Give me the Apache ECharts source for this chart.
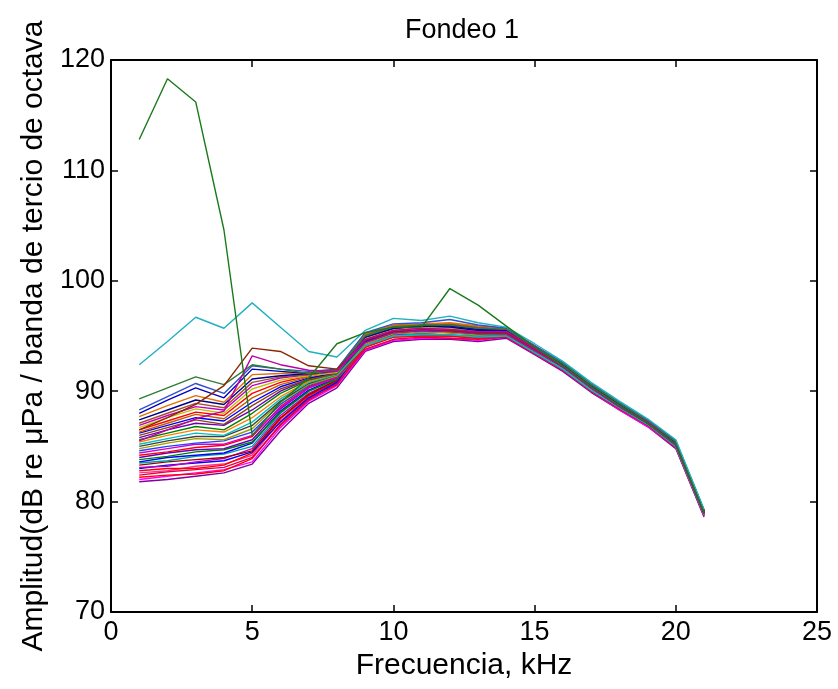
<!DOCTYPE html>
<html>
<head>
<meta charset="utf-8">
<script src="https://cdn.jsdelivr.net/npm/echarts@6/dist/echarts.min.js"></script>
<style>
  html, body { margin: 0; padding: 0; background: #fff; }
  #chart { width: 838px; height: 689px; }
</style>
</head>
<body>
<div id="chart"></div>
<script>
// frequency bands (kHz)
var freq = [1,2,3,4,5,6,7,8,9,10,11,12,13,14,15,16,17,18,19,20,21];

// spectra (dB), bottom of the bundle first
var r01 = [81.8,82.0,82.3,82.6,83.4,86.4,88.9,90.3,93.6,94.5,94.7,94.7,94.5,94.8,93.3,91.8,89.9,88.3,86.8,84.8,78.6];
var r02 = [82.0,82.3,82.6,82.9,83.6,86.7,89.1,90.5,93.7,94.6,94.8,94.8,94.6,94.9,93.4,91.9,90.0,88.3,86.8,84.9,78.7];
var r03 = [82.2,82.4,82.5,82.8,83.9,87.0,89.3,90.6,94.0,94.9,95.0,95.0,94.8,95.0,93.5,92.0,90.1,88.5,87.0,85.0,78.8];
var r04 = [82.4,82.7,82.9,83.1,84.0,86.9,89.2,90.7,93.8,94.7,94.9,94.8,94.7,94.9,93.4,91.9,90.0,88.4,86.9,84.9,78.7];
var r05 = [82.6,82.8,83.2,83.4,84.2,87.3,89.5,90.8,94.1,95.0,95.1,95.1,94.9,95.0,93.5,92.0,90.1,88.5,87.0,85.0,78.8];
var r06 = [82.8,83.0,83.0,83.3,84.4,87.5,89.6,90.9,94.0,95.0,95.1,95.0,94.9,95.1,93.6,92.1,90.2,88.5,87.0,85.1,78.9];
var r07 = [83.0,83.3,83.5,83.7,84.5,87.2,89.4,90.8,94.4,95.3,95.5,95.4,95.2,95.2,93.7,92.2,90.3,88.6,87.1,85.1,78.9];
var r08 = [83.1,83.2,83.6,83.9,84.8,87.8,89.8,91.0,94.1,95.1,95.2,95.1,94.9,95.0,93.5,92.0,90.1,88.5,87.0,85.0,78.8];
var r09 = [83.3,83.6,83.8,84.0,84.6,87.6,89.7,91.0,94.3,95.2,95.4,95.3,95.1,95.2,93.7,92.1,90.2,88.6,87.1,85.1,78.9];
var r10 = [83.5,83.7,84.1,84.3,85.0,88.0,90.0,91.1,94.1,95.0,95.2,95.1,95.0,95.1,93.6,92.0,90.2,88.5,87.0,85.0,78.8];
var r11 = [83.6,84.0,84.2,84.4,85.3,88.2,90.1,91.2,94.5,95.4,95.5,95.4,95.2,95.3,93.8,92.2,90.3,88.7,87.1,85.2,79.0];
var r12 = [83.8,84.1,84.5,84.7,85.4,88.1,90.0,91.1,94.8,95.6,95.8,95.7,95.5,95.4,93.9,92.4,90.5,88.8,87.2,85.3,79.1];
var r13 = [84.0,84.4,84.7,84.8,85.6,88.4,90.3,91.3,94.5,95.3,95.5,95.4,95.2,95.2,93.7,92.2,90.3,88.6,87.1,85.1,78.9];
var r14 = [84.2,84.5,84.9,85.1,85.9,88.6,90.4,91.3,94.0,94.9,95.0,95.0,94.8,95.0,93.5,92.0,90.1,88.5,87.0,85.0,78.8];
var r15 = [84.4,84.8,85.2,85.2,86.0,88.5,90.3,91.2,94.7,95.6,95.8,95.6,95.4,95.4,93.9,92.3,90.4,88.8,87.2,85.3,79.1];
var r16 = [84.6,85.0,85.3,85.5,86.3,88.8,90.5,91.4,94.4,95.3,95.5,95.4,95.2,95.3,93.8,92.2,90.3,88.7,87.1,85.2,79.0];
var r17 = [84.8,85.3,85.7,85.6,86.6,89.0,90.6,91.4,94.3,95.2,95.4,95.3,95.1,95.2,93.7,92.1,90.2,88.6,87.1,85.1,78.9];
var r18 = [85.0,85.5,85.9,85.9,86.9,89.1,90.7,91.5,94.8,95.6,95.8,95.7,95.5,95.4,93.9,92.4,90.5,88.8,87.2,85.3,79.1];
var r19 = [85.2,85.7,86.2,86.0,87.2,89.3,90.8,91.5,94.1,95.0,95.1,95.1,94.9,95.0,93.5,92.0,90.1,88.5,87.0,85.0,78.8];
var r20 = [85.4,86.0,86.5,86.3,87.6,89.5,90.9,91.6,94.7,95.6,95.7,95.7,95.5,95.4,93.9,92.4,90.5,88.8,87.3,85.3,79.1];
var r21 = [85.6,86.2,86.8,86.5,88.0,89.8,91.0,91.6,94.4,95.3,95.5,95.4,95.2,95.2,93.7,92.2,90.3,88.6,87.1,85.1,78.9];
var r22 = [85.8,86.5,87.1,86.9,88.3,90.0,91.1,91.7,95.1,95.9,96.0,96.1,95.8,95.6,94.1,92.5,90.6,88.9,87.3,85.4,79.2];
var r23 = [86.0,86.7,87.4,87.0,88.7,90.2,91.1,91.6,94.8,95.6,95.8,95.7,95.5,95.4,93.9,92.4,90.5,88.8,87.2,85.3,79.1];
var r24 = [86.2,86.9,87.6,87.3,89.0,90.4,91.2,91.7,94.5,95.4,95.5,95.5,95.3,95.3,93.8,92.2,90.4,88.7,87.1,85.2,79.0];
var r25 = [86.3,87.1,87.9,87.5,89.4,90.6,91.3,91.8,94.9,95.7,95.9,95.8,95.6,95.5,94.0,92.4,90.5,88.8,87.2,85.3,79.1];
var r26 = [86.5,87.3,88.1,87.8,89.8,90.8,91.4,91.8,95.0,95.8,96.0,96.0,95.7,95.6,94.1,92.5,90.6,88.9,87.3,85.4,79.2];
var r27 = [86.7,87.6,88.4,88.0,90.2,91.0,91.4,91.7,94.8,95.6,95.8,95.7,95.5,95.4,93.9,92.4,90.5,88.8,87.2,85.3,79.1];
var r28 = [86.9,87.8,88.6,88.3,90.5,91.2,91.5,91.8,94.4,95.3,95.5,95.4,95.2,95.2,93.7,92.2,90.3,88.6,87.1,85.1,78.9];
var r29 = [87.1,88.0,88.9,88.5,90.8,91.3,91.5,91.9,95.1,95.9,96.0,96.1,95.8,95.6,94.1,92.5,90.6,88.9,87.3,85.4,79.2];
var r30 = [87.4,88.3,89.2,88.8,91.1,91.4,91.6,91.9,94.9,95.7,95.9,95.8,95.5,95.5,94.0,92.4,90.5,88.8,87.2,85.3,79.1];
var r31 = [87.7,88.7,89.6,89.0,91.5,91.6,91.7,92.0,95.2,96.0,96.1,96.2,95.9,95.7,94.1,92.6,90.6,88.9,87.4,85.4,79.2];
var r32 = [88.0,89.2,90.3,89.4,92.0,91.8,91.6,91.9,94.9,95.7,95.9,95.9,95.6,95.5,94.0,92.4,90.5,88.8,87.2,85.3,79.1];
var r33 = [88.3,89.5,90.7,89.8,92.3,92.0,91.8,92.0,95.3,96.1,96.2,96.5,96.0,95.7,94.1,92.6,90.7,89.0,87.4,85.5,79.2];
var r34 = [89.3,90.3,91.3,90.6,92.4,92.0,91.6,91.9,95.0,95.8,96.0,96.0,95.7,95.6,94.0,92.5,90.6,88.9,87.3,85.4,79.2];
var r35 = [86.5,87.6,88.8,90.5,93.9,93.6,92.3,92.0,94.6,95.4,95.6,95.5,95.3,95.3,93.8,92.3,90.4,88.7,87.1,85.2,79.0];
var r36 = [85.5,86.5,87.5,88.2,93.2,92.4,91.9,91.8,94.7,95.5,95.7,95.6,95.4,95.4,93.9,92.3,90.4,88.7,87.2,85.2,79.0];
// the two odd ones
var cyanLine  = [92.4,94.5,96.7,95.7,98.0,95.8,93.6,93.1,95.5,96.6,96.4,96.8,96.2,95.8,94.3,92.7,90.8,89.1,87.5,85.6,79.3];
var greenLine = [112.8,118.3,116.2,104.6,86.0,89.0,91.2,94.3,95.3,95.8,95.8,99.3,97.8,95.9,94.0,92.3,90.4,88.7,87.1,85.2,79.0];

var lines = [r01,r02,r03,r04,r05,r06,r07,r08,r09,r10,r11,r12,r13,r14,r15,r16,r17,r18,
             r19,r20,r21,r22,r23,r24,r25,r26,r27,r28,r29,r30,r31,r32,r33,r34,r35,r36,cyanLine,greenLine];
var colors = ['#8000a0','#ff00ff','#ff0000','#e0004a','#ff3090','#ff0000','#0000ff','#c000c0','#a00000',
              '#00a0a0','#0000ff','#008000','#6000c0','#ff0000','#d000d0','#2040ff','#a0a000','#404040',
              '#00c0c0','#ff8000','#008000','#7000b0','#8b4513','#0000ff','#c06000','#ff0000','#c0c000',
              '#c000c0','#a0522d','#000090','#e07000','#0000c0','#3050d0','#2e7d32','#8b2500','#c000a0',
              '#20b0c0','#1a7a1a'];

var FONT = 'Liberation Sans';
var chart = echarts.init(document.getElementById('chart'));

var series = [];
for (var i = 0; i < lines.length; i++) {
  series.push({
    type: 'line',
    data: freq.map(function (f, k) { return [f, lines[i][k]]; }),
    showSymbol: false,
    symbol: 'none',
    lineStyle: { width: 1.4, color: colors[i] },
    z: 2 + i
  });
}

function boxAxis(pos, extra) {
  var a = {
    type: 'value',
    position: pos,
    axisLine: { show: true, onZero: false, lineStyle: { color: '#000', width: 2 } },
    axisTick: { show: true, inside: true, length: 7, lineStyle: { color: '#000', width: 1.5 } },
    axisLabel: { show: false },
    splitLine: { show: false }
  };
  return Object.assign(a, extra);
}

chart.setOption({
  animation: false,
  backgroundColor: '#fff',
  grid: { left: 111, right: 21, top: 60, bottom: 77, containLabel: false },
  graphic: [{
    type: 'text', x: 462, y: 31,
    style: { text: 'Fondeo 1', font: '27px "' + FONT + '"', fill: '#000', textAlign: 'center', textVerticalAlign: 'middle' }
  }],
  xAxis: [
    boxAxis('bottom', {
      min: 0, max: 25, interval: 5,
      axisLabel: { show: true, color: '#000', fontSize: 27, fontFamily: FONT, margin: 7 },
      name: 'Frecuencia, kHz', nameLocation: 'middle', nameGap: 36,
      nameTextStyle: { color: '#000', fontSize: 30, fontFamily: FONT }
    }),
    boxAxis('top', { min: 0, max: 25, interval: 5 })
  ],
  yAxis: [
    boxAxis('left', {
      min: 70, max: 120, interval: 10,
      axisLabel: { show: true, color: '#000', fontSize: 27, fontFamily: FONT, margin: 6 },
      name: 'Amplitud(dB re \u03bcPa / banda de tercio de octava', nameLocation: 'middle', nameGap: 62,
      nameTextStyle: { color: '#000', fontSize: 30, fontFamily: FONT }
    }),
    boxAxis('right', { min: 70, max: 120, interval: 10 })
  ],
  series: series
});
</script>
</body>
</html>
